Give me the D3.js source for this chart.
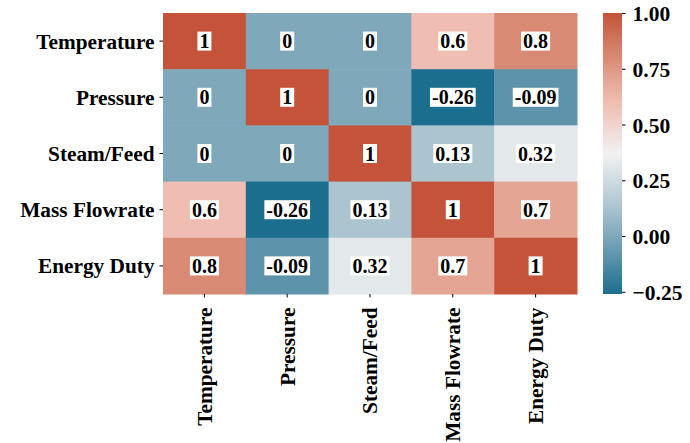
<!DOCTYPE html>
<html>
<head>
<meta charset="utf-8">
<script src="https://cdn.jsdelivr.net/npm/d3@7"></script>
<style>
  html, body { margin: 0; padding: 0; background: #ffffff; }
  svg { display: block; }
</style>
</head>
<body>
<svg id="chart" width="690" height="443"></svg>
<script>
// Variables shown on both axes
const variables = ["Temperature", "Pressure", "Steam/Feed", "Mass Flowrate", "Energy Duty"];

// Correlation matrix, one row per variable
const corrTemperature  = [1, 0, 0, 0.6, 0.8];
const corrPressure     = [0, 1, 0, -0.26, -0.09];
const corrSteamFeed    = [0, 0, 1, 0.13, 0.32];
const corrMassFlowrate = [0.6, -0.26, 0.13, 1, 0.7];
const corrEnergyDuty   = [0.8, -0.09, 0.32, 0.7, 1];
const matrix = [corrTemperature, corrPressure, corrSteamFeed, corrMassFlowrate, corrEnergyDuty];

// Colour bar tick labels
const colorbarTicks = [-0.25, 0.00, 0.25, 0.50, 0.75, 1.00];

// Diverging palette stops (blue – light – red)
const paletteStops  = [-0.26, 0, 0.13, 0.37, 0.6, 0.7, 0.8, 1.0];
const paletteColors = ["#1b6e8e", "#80a8bb", "#abc4d0", "#f2f2f2", "#efbdb1", "#e5a594", "#d98a75", "#c4533a"];

const vmin = -0.26, vmax = 1.0;
const FONT = '"Liberation Serif", "Times New Roman", serif';

const svg = d3.select("#chart");
const plot = { left: 163, top: 13, right: 577, bottom: 294 };

const x = d3.scaleBand().domain(variables).range([plot.left, plot.right]).padding(0);
const y = d3.scaleBand().domain(variables).range([plot.top, plot.bottom]).padding(0);
const color = d3.scaleLinear().domain(paletteStops).range(paletteColors).clamp(true);

const cells = [];
matrix.forEach((row, i) => row.forEach((v, j) => cells.push({ row: variables[i], col: variables[j], v })));

function styleText(sel, size) {
  sel.attr("font-family", null)
     .style("font-family", FONT)
     .style("font-weight", "bold")
     .style("font-size", size + "px")
     .attr("fill", "#000");
}

// Heatmap cells
svg.append("g").selectAll("rect").data(cells).join("rect")
  .attr("x", d => x(d.col))
  .attr("y", d => y(d.row))
  .attr("width", x.bandwidth() + 0.5)
  .attr("height", y.bandwidth() + 0.5)
  .attr("fill", d => color(d.v));

// Annotations with white label boxes
const ann = svg.append("g").selectAll("g").data(cells).join("g")
  .attr("transform", d => `translate(${x(d.col) + x.bandwidth() / 2},${y(d.row) + y.bandwidth() / 2})`);
ann.append("rect").attr("fill", "#ffffff");
ann.append("text")
  .attr("text-anchor", "middle")
  .attr("dy", "0.35em")
  .text(d => String(d.v))
  .call(styleText, 20);
ann.each(function () {
  const g = d3.select(this);
  const bb = g.select("text").node().getBBox();
  g.select("rect")
    .attr("x", bb.x - 2)
    .attr("y", -9.5)
    .attr("width", bb.width + 4)
    .attr("height", 19);
});

// Axes
const yAxis = svg.append("g")
  .attr("transform", `translate(${plot.left},0)`)
  .call(d3.axisLeft(y).tickSize(3.5).tickPadding(5));
yAxis.attr("font-family", null);
yAxis.select(".domain").remove();
yAxis.selectAll("text").attr("dy", "0.35em").call(styleText, 21.3);

const xAxis = svg.append("g")
  .attr("transform", `translate(0,${plot.bottom})`)
  .call(d3.axisBottom(x).tickSize(3.5).tickPadding(5));
xAxis.attr("font-family", null);
xAxis.select(".domain").remove();
xAxis.selectAll("text")
  .attr("text-anchor", "end")
  .attr("transform", "rotate(-90)")
  .attr("x", -(3.5 + 10))
  .attr("y", 0)
  .attr("dy", "0.35em")
  .call(styleText, 21.3);

// Colour bar
const cb = { left: 603, width: 19, top: 13, bottom: 294 };
const cbScale = d3.scaleLinear().domain([vmin, vmax]).range([cb.bottom, cb.top]);

const defs = svg.append("defs");
const grad = defs.append("linearGradient")
  .attr("id", "cbgrad").attr("x1", 0).attr("y1", 1).attr("x2", 0).attr("y2", 0);
grad.selectAll("stop").data(d3.range(0, 1.0001, 0.02)).join("stop")
  .attr("offset", t => t)
  .attr("stop-color", t => color(vmin + t * (vmax - vmin)));

svg.append("rect")
  .attr("x", cb.left).attr("y", cb.top)
  .attr("width", cb.width).attr("height", cb.bottom - cb.top)
  .attr("fill", "url(#cbgrad)");

const cbAxis = svg.append("g")
  .attr("transform", `translate(${cb.left + cb.width},0)`)
  .call(d3.axisRight(cbScale).tickValues(colorbarTicks).tickFormat(d3.format(".2f")).tickSize(3.5).tickPadding(7));
cbAxis.attr("font-family", null);
cbAxis.select(".domain").remove();
cbAxis.selectAll("text").attr("dy", "0.35em").call(styleText, 21.5);
</script>
</body>
</html>
